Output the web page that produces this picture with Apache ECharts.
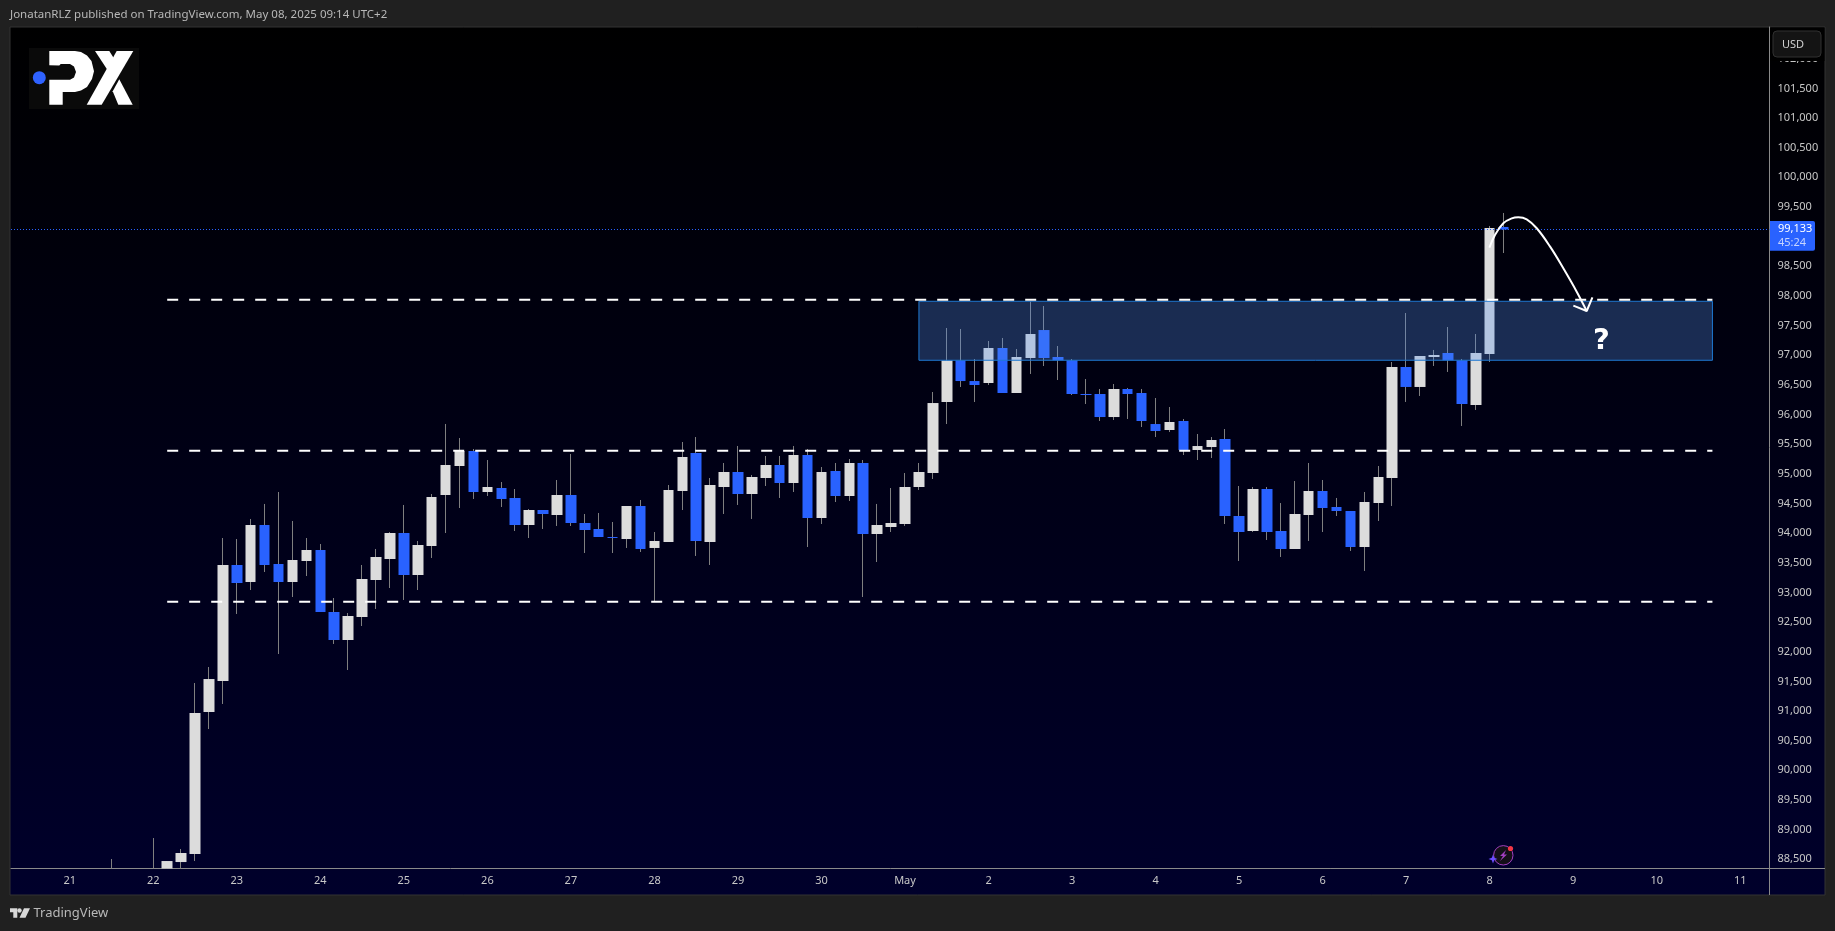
<!DOCTYPE html>
<html>
<head>
<meta charset="utf-8">
<style>
html,body{margin:0;padding:0;background:#202020;}
#chart{width:1835px;height:931px;}
</style>
<script src="https://cdn.jsdelivr.net/npm/echarts@6/dist/echarts.min.js"></script>
</head>
<body>
<div id="chart"></div>
<script>
// 4h bars, index 0 is Apr 22 00:00
// the first bars run under the time axis, only their visible part is read (88345 is the pane bottom)
var firstBar = -3;
var opens = [88345,88300,88300,88345,88345,88454,88589,90984,91507,93463,93176,94137,93480,93176,93530,93716,92670,92198,92586,93210,93564,94002,93294,93783,94643,95132,95385,94694,94761,94593,94137,94390,94306,94643,94171,94070,93935,93901,94458,93750,93851,94711,95352,93851,94778,95031,94660,94930,95149,94846,95318,94255,95048,94626,95183,93986,94104,94154,94778,95014,96211,96914,96565,96532,97122,96363,96953,97425,96970,96914,96346,96346,95958,96431,96363,95840,95739,95891,95402,95452,95588,94289,94036,94744,94036,93733,94306,94711,94441,94373,93766,94508,94930,96802,96465,96970,97038,96914,96161,97021,99163];
var closes = [88345,88300,88300,88345,88471,88606,90967,91540,93463,93159,94137,93463,93176,93547,93716,92670,92198,92603,93227,93598,94002,93294,93800,94610,95149,95385,94694,94778,94576,94137,94390,94323,94643,94171,94053,93935,93918,94458,93733,93868,94728,95284,93868,94812,95031,94660,94947,95149,94846,95318,94255,95031,94626,95183,93986,94137,94171,94778,95031,96194,96914,96565,96498,97122,96363,96970,97358,96953,96914,96346,96329,95958,96431,96346,95891,95722,95874,95402,95469,95571,94289,94019,94744,94019,93733,94323,94711,94424,94373,93766,94525,94947,96802,96465,96987,97004,96914,96178,97038,99146,99120];
var lows = [88345,88300,88300,88345,88345,88345,88471,90697,91119,92637,93041,93345,91962,92923,93277,92670,92131,91692,92434,92721,93075,92873,93041,93581,94002,94424,94576,94626,94441,94036,93918,94070,94121,94121,93665,93935,93665,93750,93682,92839,93851,94390,93615,93463,94323,94475,94239,94795,94593,94694,93766,94154,94525,94542,92923,93513,94019,94121,94728,94913,95840,96464,96211,96498,96363,96363,96684,96818,96582,96329,96178,95891,95908,95925,95790,95621,95705,95318,95233,95267,94154,93530,94019,93884,93598,93733,93868,94019,94289,93699,93362,94205,94458,96212,96313,96819,96718,95807,96077,96886,98724];
var highs = [88505,88300,88300,88859,88471,88674,91473,91743,93918,93901,94239,94492,94694,94205,93918,93817,92906,92653,93463,93733,94019,94475,93868,94660,95841,95604,95419,95233,94862,94744,94407,94390,94896,95335,94323,94340,94188,94458,94559,94019,94812,95537,95621,94930,95183,95470,94981,95301,95301,95470,95419,95115,95183,95250,95233,94492,94761,95014,95183,96380,97459,97442,96936,97240,97291,97105,97909,97830,97156,96936,96599,96431,96515,96448,96431,96279,96127,95925,95672,95621,95756,94795,94778,94778,94508,94879,95183,94896,94593,94373,94694,95132,96886,97712,96987,97089,97476,96937,97358,99180,99399];

var dayTicks = [-6,0,6,12,18,24,30,36,42,48,54,60,66,72,78,84,90,96,102,108,114];
var dayLabels = ['21','22','23','24','25','26','27','28','29','30','May','2','3','4','5','6','7','8','9','10','11'];
var priceTicks = [88500,89000,89500,90000,90500,91000,91500,92000,92500,93000,93500,94000,94500,95000,95500,96000,96500,97000,97500,98000,98500,99000,99500,100000,100500,101000,101500,102000];

// drawings
var levels = [97937,95390,92845];
var levelFrom = 1, levelTo = 112;
var zoneFrom = 55, zoneTo = 112, zoneLow = 96915, zoneHigh = 97910;
var lastLine = 99120;
var arrowBars = [95.98,96.38,96.98,97.59,98.06,98.66,99.38,100.34,101.29,102.25,102.97];
var arrowPrices = [98814,99028,99225,99309,99326,99292,99141,98831,98466,98072,97746];
var headBars = [102.01,102.97,103.38];
var headPrices = [97836,97746,97977];

var blue = '#2962ff', white = '#dcdcdc', wick = '#7f7f7f';
var fontName = '"Noto Sans"';

var wickData = [], bodyData = [];
for (var i = 0; i < opens.length; i++) {
  var x = firstBar + i;
  wickData.push([x, opens[i], closes[i], lows[i], highs[i]]);
  bodyData.push([x, opens[i], closes[i], Math.min(opens[i], closes[i]), Math.max(opens[i], closes[i])]);
}

function pairs(xs, ys) {
  return xs.map(function (v, k) { return [v, ys[k]]; });
}

var series = [
  {
    type: 'candlestick', name: 'wicks', data: wickData, barWidth: 1, z: 2, silent: true,
    itemStyle: {color: wick, color0: wick, borderColor: wick, borderColor0: wick, borderWidth: 1}
  },
  {
    type: 'candlestick', name: 'bodies', data: bodyData, barWidth: 11, z: 3, silent: true,
    itemStyle: {color: white, color0: blue, borderColor: white, borderColor0: blue, borderWidth: 0}
  },
  {
    type: 'line', name: 'zone', data: [[zoneFrom, zoneLow]], showSymbol: false, silent: true, z: 5,
    lineStyle: {opacity: 0},
    markArea: {
      silent: true, z: 5,
      itemStyle: {color: 'rgba(85,145,240,0.30)', borderColor: '#1e78d2', borderWidth: 1},
      data: [[{coord: [zoneFrom, zoneHigh]}, {coord: [zoneTo, zoneLow]}]]
    }
  },
  {
    type: 'line', name: 'last', data: [[firstBar, lastLine]], showSymbol: false, silent: true, z: 4,
    lineStyle: {opacity: 0},
    markLine: {
      silent: true, symbol: 'none', label: {show: false}, z: 4, animation: false,
      lineStyle: {color: blue, width: 1, type: [1, 2]},
      data: [{yAxis: lastLine}]
    }
  },
  {
    type: 'line', name: 'arrow', data: pairs(arrowBars, arrowPrices), smooth: 0.4, showSymbol: false,
    silent: true, z: 7, lineStyle: {color: '#ffffff', width: 2}
  },
  {
    type: 'line', name: 'head', data: pairs(headBars, headPrices), showSymbol: false,
    silent: true, z: 7, lineStyle: {color: '#ffffff', width: 2}
  }
];
levels.forEach(function (v) {
  series.push({
    type: 'line', data: [[levelFrom, v], [levelTo, v]], showSymbol: false, silent: true, z: 6,
    lineStyle: {color: '#ffffff', width: 2, type: [11, 11]}
  });
});

var graphics = [
  // page frame and pane background
  {type: 'rect', z: -2, shape: {x: 10, y: 27, width: 1815, height: 868},
    style: {fill: new echarts.graphic.LinearGradient(0, 0, 0, 1, [{offset: 0, color: '#000000'}, {offset: 1, color: '#00002b'}]), stroke: '#333333', lineWidth: 1}},
  {type: 'text', z: 20, x: 10, y: 15, style: {text: 'JonatanRLZ published on TradingView.com, May 08, 2025 09:14 UTC+2', fill: '#b8b8b8', font: '11.5px ' + fontName, textVerticalAlign: 'middle'}},
  // axis lines run on to the frame
  {type: 'line', z: 20, shape: {x1: 1769.5, y1: 868.5, x2: 1825, y2: 868.5}, style: {stroke: '#8a8a8a', lineWidth: 1}},
  {type: 'line', z: 20, shape: {x1: 1769.5, y1: 868.5, x2: 1769.5, y2: 895}, style: {stroke: '#8a8a8a', lineWidth: 1}},
  // logo
  {type: 'rect', z: 20, shape: {x: 29, y: 48, width: 110, height: 61}, style: {fill: '#0a0a0a'}},
  {type: 'circle', z: 21, shape: {cx: 39.3, cy: 77.7, r: 6.5}, style: {fill: '#2f62ff'}},
  {type: 'polygon', z: 21, shape: {points: [[49.3, 51], [75, 51], [81, 52], [87, 55.5], [91.5, 61], [94, 71.3], [92, 79], [87, 87], [81, 90.5], [75, 92], [62.7, 92], [62.7, 104.7], [49.3, 104.7], [49.3, 79.7], [70, 79.7], [74, 77.5], [76, 72], [74, 66.5], [70, 64], [60.7, 64], [59.3, 65.5], [49.3, 65.3]]}, style: {fill: '#ffffff'}},
  {type: 'polygon', z: 21, shape: {points: [[116.7, 51], [133.3, 51], [101.7, 104.7], [86.7, 104.7]]}, style: {fill: '#ffffff'}},
  {type: 'polygon', z: 21, shape: {points: [[95, 51], [109.3, 51], [116.7, 62.7], [109.3, 72.7]]}, style: {fill: '#ffffff'}},
  {type: 'polygon', z: 21, shape: {points: [[119.3, 79.3], [132.7, 104.7], [118.3, 104.7], [112.7, 91.3]]}, style: {fill: '#ffffff'}},
  // question mark on the zone
  {type: 'text', z: 20, x: 1601.5, y: 341, style: {text: '?', fill: '#ffffff', font: 'bold 29px "DejaVu Sans"', textAlign: 'center', textVerticalAlign: 'middle'}},
  // USD button, it hides the top tick label
  {type: 'rect', z: 20, shape: {x: 1770.5, y: 27.5, width: 54, height: 33.5}, style: {fill: '#000000'}},
  {type: 'rect', z: 21, shape: {x: 1773, y: 31, width: 48, height: 26, r: 4}, style: {fill: '#141414', stroke: '#303030', lineWidth: 1}},
  {type: 'text', z: 22, x: 1782, y: 44.5, style: {text: 'USD', fill: '#d0d0d0', font: '11px ' + fontName, textVerticalAlign: 'middle'}},
  // last price tag
  {type: 'rect', z: 20, shape: {x: 1770, y: 221, width: 45, height: 29.7, r: [0, 2, 2, 0]}, style: {fill: blue}},
  {type: 'text', z: 21, x: 1778, y: 229, style: {text: '99,133', fill: '#ffffff', font: '11px ' + fontName, textVerticalAlign: 'middle'}},
  {type: 'text', z: 21, x: 1778, y: 242.5, style: {text: '45:24', fill: '#c6d4ff', font: '11px ' + fontName, textVerticalAlign: 'middle'}},
  // bolt badge
  {type: 'circle', z: 20, shape: {cx: 1503.3, cy: 855.3, r: 9.7}, style: {fill: '#141018', stroke: '#a23fc0', lineWidth: 1}},
  {type: 'polygon', z: 21, shape: {points: [[1506, 850], [1500, 856], [1503, 856], [1500, 861], [1507, 854.5], [1504, 854.5]]}, style: {fill: '#a23fc0'}},
  {type: 'circle', z: 21, shape: {cx: 1510.5, cy: 848.5, r: 2.6}, style: {fill: '#f23645'}},
  {type: 'polygon', z: 21, shape: {points: [[1493, 854.5], [1494.2, 857.8], [1497.5, 859], [1494.2, 860.2], [1493, 863.5], [1491.8, 860.2], [1488.5, 859], [1491.8, 857.8]]}, style: {fill: '#6a4cff'}},
  // TradingView mark
  {type: 'polygon', z: 20, shape: {points: [[10, 908.3], [17.3, 908.3], [17.3, 917.7], [13.3, 917.7], [13.3, 912.3], [10, 912.3]]}, style: {fill: '#d8d8d8'}},
  {type: 'circle', z: 20, shape: {cx: 19.5, cy: 910.5, r: 2.2}, style: {fill: '#d8d8d8'}},
  {type: 'polygon', z: 20, shape: {points: [[24, 908.3], [30, 908.3], [25.5, 917.7], [19.5, 917.7]]}, style: {fill: '#d8d8d8'}},
  {type: 'text', z: 20, x: 33.5, y: 913, style: {text: 'TradingView', fill: '#b8b8b8', font: '13px ' + fontName, textVerticalAlign: 'middle'}}
];

var chart = echarts.init(document.getElementById('chart'));
chart.setOption({
  animation: false,
  backgroundColor: '#202020',
  grid: {left: 11, right: 65.5, top: 27, bottom: 62.5, containLabel: false},
  xAxis: {
    type: 'value', min: -10.22, max: 116.1,
    splitLine: {show: false}, axisTick: {show: false},
    axisLine: {show: true, onZero: false, lineStyle: {color: '#8a8a8a', width: 1}},
    axisLabel: {
      customValues: dayTicks, color: '#c8c8c8', fontFamily: 'Noto Sans', fontSize: 11, margin: 7,
      formatter: function (v) { return dayLabels[dayTicks.indexOf(v)]; }
    }
  },
  yAxis: {
    type: 'value', position: 'right', min: 88345, max: 102535,
    splitLine: {show: false}, axisTick: {show: false},
    axisLine: {show: true, onZero: false, lineStyle: {color: '#8a8a8a', width: 1}},
    axisLabel: {
      customValues: priceTicks, color: '#c8c8c8', fontFamily: 'Noto Sans', fontSize: 11, margin: 8,
      formatter: function (v) { return v.toLocaleString('en-US'); }
    }
  },
  graphic: {elements: graphics},
  series: series
});
</script>
</body>
</html>
